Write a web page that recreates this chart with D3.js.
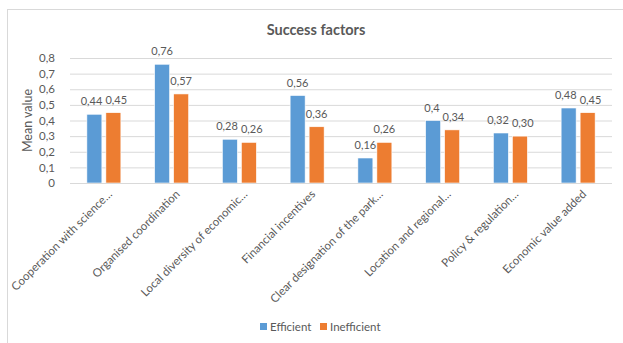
<!DOCTYPE html>
<html>
<head>
<meta charset="utf-8">
<script src="https://cdn.jsdelivr.net/npm/d3@7"></script>
<style>
  html, body { margin: 0; padding: 0; background: #fff; }
  svg { display: block; }
  text { font-family: Lato, "Open Sans", sans-serif; fill: #595959; }
</style>
</head>
<body>
<svg id="chart" width="623" height="343"></svg>
<script>
const categories = [
  "Cooperation with science…",
  "Organised coordination",
  "Local diversity of economic…",
  "Financial incentives",
  "Clear designation of the park…",
  "Location and regional…",
  "Policy & regulation…",
  "Economic value added"
];
const efficient   = [0.44, 0.76, 0.28, 0.56, 0.16, 0.40, 0.32, 0.48];
const inefficient = [0.45, 0.57, 0.26, 0.36, 0.26, 0.34, 0.30, 0.45];
const seriesNames = ["Efficient", "Inefficient"];
const yTicks = [0, 0.1, 0.2, 0.3, 0.4, 0.5, 0.6, 0.7, 0.8];

const colors = { Efficient: "#5B9BD5", Inefficient: "#ED7D31" };
const comma = s => s.replace(".", ",");
const fmtTick = v => comma(d3.format("~g")(v));
const fmtLabel = {
  Efficient: v => comma(d3.format("~g")(v)),
  Inefficient: v => comma(d3.format(".2f")(v))
};

const svg = d3.select("#chart");

// chart frame (continues past the bottom/right edges)
svg.append("rect")
  .attr("x", 7.5).attr("y", 9.5)
  .attr("width", 700).attr("height", 400)
  .attr("fill", "#fff").attr("stroke", "#d9d9d9");

const plot = { left: 70, right: 612, top: 58, bottom: 183 };

const x = d3.scaleBand().domain(categories)
  .range([plot.left, plot.right]).paddingInner(0).paddingOuter(0);
const y = d3.scaleLinear().domain([0, 0.8]).range([plot.bottom, plot.top]);

const barW = 15, gap = 4;
const xs = d3.scaleOrdinal().domain(seriesNames)
  .range([-gap / 2 - barW, gap / 2]);

// gridlines + tick labels
const yAxis = d3.axisLeft(y).tickValues(yTicks).tickFormat(fmtTick)
  .tickSize(-(plot.right - plot.left)).tickPadding(15);
const gy = svg.append("g").attr("transform", `translate(${plot.left},0)`).call(yAxis);
gy.select(".domain").remove();
gy.selectAll(".tick line").attr("stroke", "#d9d9d9").attr("stroke-width", 1);
gy.selectAll(".tick text").attr("font-size", 11.5).style("fill", "#595959")
  .attr("font-family", "Lato, sans-serif");

// bars
const rows = categories.map((c, i) => ({
  cat: c,
  values: [
    { s: "Efficient", v: efficient[i] },
    { s: "Inefficient", v: inefficient[i] }
  ]
}));

const groups = svg.append("g").selectAll("g").data(rows).join("g")
  .attr("transform", d => `translate(${x(d.cat) + x.bandwidth() / 2},0)`);

groups.selectAll("rect").data(d => d.values).join("rect")
  .attr("x", d => xs(d.s))
  .attr("y", d => y(d.v))
  .attr("width", barW)
  .attr("height", d => y(0) - y(d.v))
  .attr("fill", d => colors[d.s])
  .attr("stroke", "#fff").attr("stroke-width", 0.6);

// value labels, nudged apart when a pair would collide
groups.each(function () {
  const g = d3.select(this);
  const labels = g.selectAll("text.val").data(d => d.values).join("text")
    .attr("class", "val")
    .attr("x", d => xs(d.s) + barW / 2)
    .attr("y", d => y(d.v) - 9)
    .attr("text-anchor", "middle")
    .attr("font-size", 11)
    .text(d => fmtLabel[d.s](d.v));
  const nodes = labels.nodes();
  const [a, b] = nodes;
  const da = d3.select(a).datum(), db = d3.select(b).datum();
  const wa = a.getComputedTextLength(), wb = b.getComputedTextLength();
  const ca = xs(da.s) + barW / 2, cb = xs(db.s) + barW / 2;
  const overlap = (wa + wb) / 2 + 3 - (cb - ca);
  const vClose = Math.abs(y(da.v) - y(db.v)) < 11;
  if (overlap > 0 && vClose) {
    d3.select(a).attr("x", ca - overlap / 2);
    d3.select(b).attr("x", cb + overlap / 2);
  }
});

// baseline
svg.append("line")
  .attr("x1", plot.left).attr("x2", plot.right)
  .attr("y1", y(0) + 0.5).attr("y2", y(0) + 0.5)
  .attr("stroke", "#d9d9d9");

// category labels
svg.append("g").selectAll("text").data(categories).join("text")
  .attr("transform", d => `translate(${x(d) + x.bandwidth() / 2 + 6},${plot.bottom + 9}) rotate(-45)`)
  .attr("text-anchor", "end")
  .attr("dy", "0.35em")
  .attr("font-size", 11.5)
  .text(d => d);

// title
svg.append("text")
  .attr("x", 316).attr("y", 35)
  .attr("text-anchor", "middle")
  .attr("font-size", 14.5).attr("font-weight", "bold")
  .text("Success factors");

// y axis title
svg.append("text")
  .attr("transform", `translate(32,${(plot.top + plot.bottom) / 2}) rotate(-90)`)
  .attr("text-anchor", "middle")
  .attr("font-size", 12.5)
  .text("Mean value");

// legend
const legend = svg.append("g").attr("transform", "translate(260,327)");
const legendX = [0, 60];
seriesNames.forEach((s, i) => {
  const g = legend.append("g").attr("transform", `translate(${legendX[i]},0)`);
  g.append("rect").attr("x", 0).attr("y", -4).attr("width", 7).attr("height", 7)
    .attr("fill", colors[s]);
  g.append("text").attr("x", 10).attr("y", 0).attr("dy", "0.35em")
    .attr("font-size", 11.5).text(s);
});
</script>
</body>
</html>
